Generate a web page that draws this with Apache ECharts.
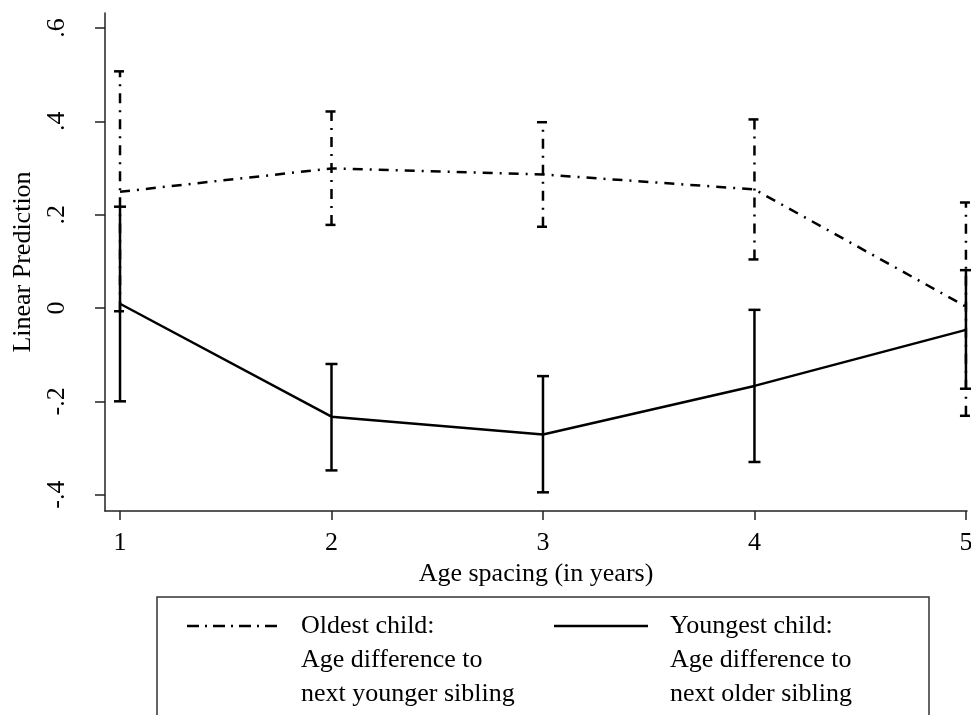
<!DOCTYPE html>
<html>
<head>
<meta charset="utf-8">
<script src="https://cdn.jsdelivr.net/npm/echarts@6/dist/echarts.min.js"></script>
<style>
html,body{margin:0;padding:0;background:#fff;}
#chart{width:971px;height:715px;}
</style>
</head>
<body>
<div id="chart"></div>
<script>
// ---- data ----
const ageSpacing = [1, 2, 3, 4, 5];
const xTickValues = [1, 2, 3, 4, 5];
const yTickValues = [-0.4, -0.2, 0, 0.2, 0.4, 0.6];

const oldestPred = [0.249, 0.299, 0.286, 0.254, 0.003];
const oldestLow  = [-0.007, 0.178, 0.174, 0.104, -0.231];
const oldestHigh = [0.507, 0.421, 0.398, 0.404, 0.226];

const youngestPred = [0.009, -0.233, -0.271, -0.167, -0.047];
const youngestLow  = [-0.200, -0.348, -0.395, -0.330, -0.173];
const youngestHigh = [0.217, -0.120, -0.146, -0.004, 0.081];

const xAxisTitle = 'Age spacing (in years)';
const yAxisTitle = 'Linear Prediction';
const legendOldest = ['Oldest child:', 'Age difference to', 'next younger sibling'];
const legendYoungest = ['Youngest child:', 'Age difference to', 'next older sibling'];

// ---- styles ----
const FONT = '"Liberation Serif", "DejaVu Serif", serif';
const FS = 26;
const DASHDOT = [10, 7, 2, 7];
const LINE_W = 2.5;

function fmtY(v) {
  const r = Math.round(v * 10) / 10;
  if (r === 0) return '0';
  return r.toFixed(1).replace('0.', '.');
}

const chart = echarts.init(document.getElementById('chart'), null, {renderer: 'canvas'});

function errRender(dash) {
  return function (params, api) {
    const x = api.value(0), lo = api.value(1), hi = api.value(2);
    const pLo = api.coord([x, lo]);
    const pHi = api.coord([x, hi]);
    const cw = 6;
    const style = {stroke: '#000', lineWidth: LINE_W, lineDash: dash || null, fill: null};
    return {
      type: 'group',
      children: [
        {type: 'line', shape: {x1: pLo[0], y1: pLo[1], x2: pHi[0], y2: pHi[1]}, style: style},
        {type: 'line', shape: {x1: pLo[0] - cw, y1: pLo[1], x2: pLo[0] + cw, y2: pLo[1]}, style: style},
        {type: 'line', shape: {x1: pHi[0] - cw, y1: pHi[1], x2: pHi[0] + cw, y2: pHi[1]}, style: style}
      ]
    };
  };
}

const oldestLine = ageSpacing.map((x, i) => [x, oldestPred[i]]);
const youngestLine = ageSpacing.map((x, i) => [x, youngestPred[i]]);
const oldestErr = ageSpacing.map((x, i) => [x, oldestLow[i], oldestHigh[i]]);
const youngestErr = ageSpacing.map((x, i) => [x, youngestLow[i], youngestHigh[i]]);

// legend built as graphic
const LBX = 157, LBY = 597;
const legendGraphics = [
  {type: 'rect', shape: {x: LBX, y: LBY, width: 772, height: 200},
   style: {fill: '#fff', stroke: '#333', lineWidth: 1.5}, z: 1},
  {type: 'line', shape: {x1: 187, y1: 626, x2: 282, y2: 626},
   style: {stroke: '#000', lineWidth: LINE_W, lineDash: [12, 6, 2, 6]}, z: 2},
  {type: 'line', shape: {x1: 554, y1: 626, x2: 648, y2: 626},
   style: {stroke: '#000', lineWidth: LINE_W}, z: 2}
];
legendOldest.forEach((t, i) => legendGraphics.push({
  type: 'text', x: 301, y: 626 + i * 34, z: 2,
  style: {text: t, font: FS + 'px ' + FONT, fill: '#000', textVerticalAlign: 'middle', textAlign: 'left'}
}));
legendYoungest.forEach((t, i) => legendGraphics.push({
  type: 'text', x: 670, y: 626 + i * 34, z: 2,
  style: {text: t, font: FS + 'px ' + FONT, fill: '#000', textVerticalAlign: 'middle', textAlign: 'left'}
}));

const option = {
  backgroundColor: '#fff',
  animation: false,
  grid: {left: 105, right: 4, top: 13, bottom: 204, containLabel: false, outerBoundsMode: 'none'},
  xAxis: {
    type: 'value', min: 0.929, max: 5.005,
    name: xAxisTitle, nameLocation: 'middle', nameGap: 42,
    nameTextStyle: {fontFamily: FONT, fontSize: FS, color: '#000'},
    axisLine: {show: true, onZero: false, lineStyle: {color: '#222', width: 1.5}},
    axisTick: {show: true, length: 9, customValues: xTickValues, lineStyle: {color: '#222', width: 1.5}},
    axisLabel: {show: true, customValues: xTickValues, margin: 19, fontFamily: FONT, fontSize: FS, color: '#000',
      formatter: v => String(Math.round(v)), hideOverlap: false},
    splitLine: {show: false}
  },
  yAxis: {
    type: 'value', min: -0.435, max: 0.632,
    name: yAxisTitle, nameLocation: 'middle', nameGap: 67,
    nameTextStyle: {fontFamily: FONT, fontSize: FS, color: '#000'},
    axisLine: {show: true, onZero: false, lineStyle: {color: '#222', width: 1.5}},
    axisTick: {show: true, length: 10, customValues: yTickValues, lineStyle: {color: '#222', width: 1.5}},
    axisLabel: {show: true, customValues: yTickValues, rotate: 90, margin: 35, fontFamily: FONT, fontSize: FS, color: '#000',
      formatter: fmtY},
    splitLine: {show: false}
  },
  series: [
    {
      name: legendOldest.join(' '), type: 'line', data: oldestLine,
      showSymbol: false, symbol: 'none', z: 3,
      lineStyle: {color: '#000', width: LINE_W, type: DASHDOT}
    },
    {
      name: 'oldest CI', type: 'custom', data: oldestErr, clip: false, z: 3,
      encode: {x: 0, y: [1, 2]},
      renderItem: errRender(DASHDOT)
    },
    {
      name: legendYoungest.join(' '), type: 'line', data: youngestLine,
      showSymbol: false, symbol: 'none', z: 4,
      lineStyle: {color: '#000', width: LINE_W, type: 'solid'}
    },
    {
      name: 'youngest CI', type: 'custom', data: youngestErr, clip: false, z: 4,
      encode: {x: 0, y: [1, 2]},
      renderItem: errRender(null)
    }
  ],
  graphic: legendGraphics
};

chart.setOption(option);
</script>
</body>
</html>
